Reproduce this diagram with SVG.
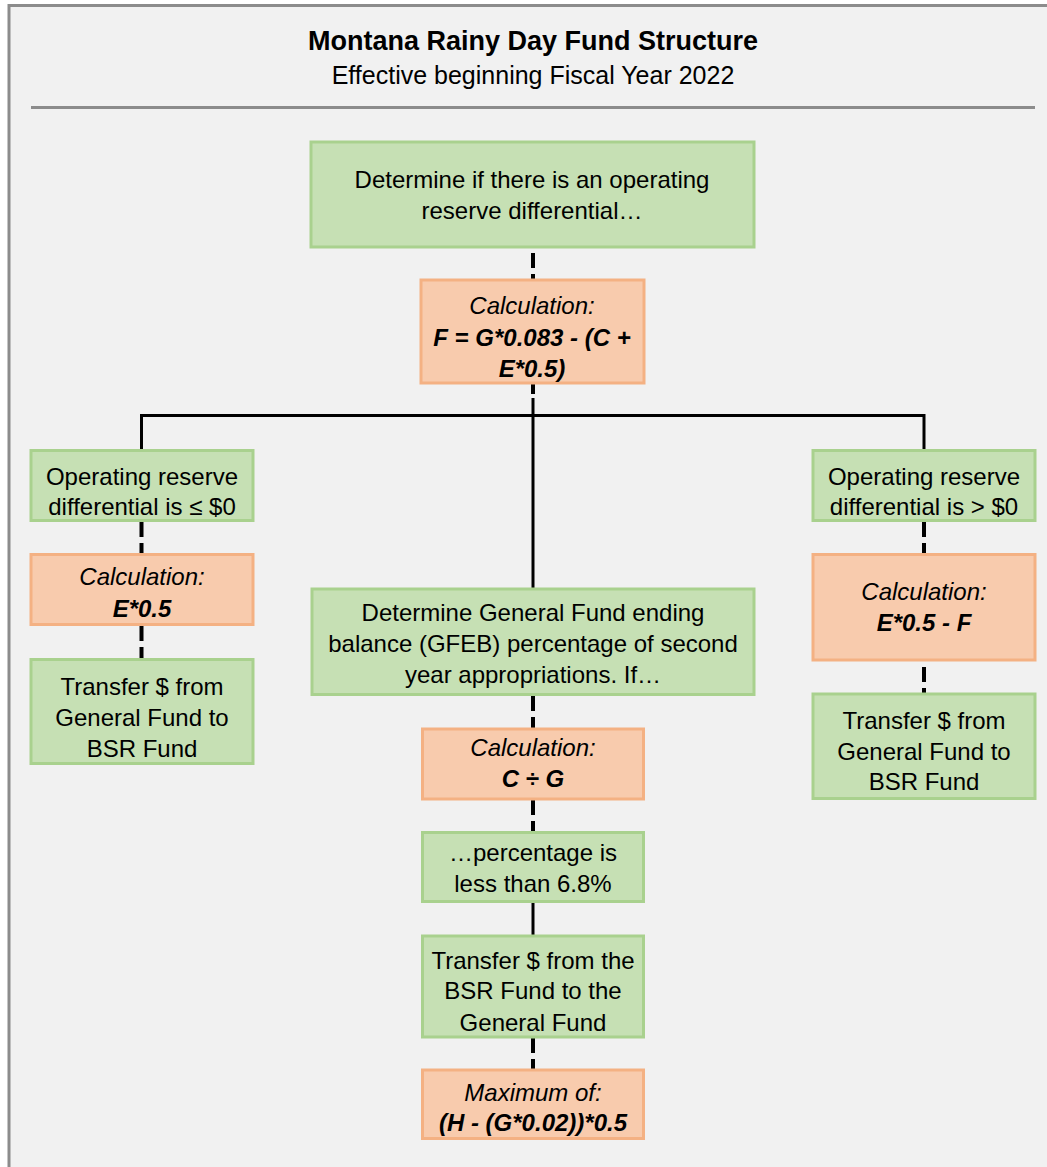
<svg xmlns="http://www.w3.org/2000/svg" width="1047" height="1167" viewBox="0 0 1047 1167">
<style>
text{font-family:"Liberation Sans",Arial,sans-serif;font-size:24px;fill:#000;text-anchor:middle}
.title{font-size:27px;font-weight:bold}
.sub{font-size:25px}
.it{font-style:italic}
.bi{font-style:italic;font-weight:bold}
.g{fill:#c6e0b4;stroke:#a9d18e;stroke-width:3}
.o{fill:#f8cbad;stroke:#f4b183;stroke-width:3}
.solid{stroke:#000;stroke-width:3;fill:none}
.dash{stroke:#000;stroke-width:4;fill:none;stroke-dasharray:15 6}
</style>
<rect x="0" y="0" width="1047" height="1167" fill="#ffffff"/>
<rect x="9" y="5.5" width="1100" height="1200" fill="#f1f1f1" stroke="#8c8c8c" stroke-width="3"/>
<g id="header">
<text class="title" x="533" y="49.5">Montana Rainy Day Fund Structure</text>
<text class="sub" x="533" y="84">Effective beginning Fiscal Year 2022</text>
<line x1="31" y1="107.5" x2="1035" y2="107.5" stroke="#8c8c8c" stroke-width="3"/>
</g>
<g id="connectors">
<line class="dash" x1="533" y1="253" x2="533" y2="279"/>
<line class="dash" x1="533" y1="384" x2="533" y2="394"/>
<line class="solid" x1="533" y1="398" x2="533" y2="588"/>
<polyline class="solid" points="141.5,450 141.5,415.5 924,415.5 924,450"/>
<line class="dash" x1="141.5" y1="522" x2="141.5" y2="554"/>
<line class="dash" x1="141.5" y1="626" x2="141.5" y2="659"/>
<line class="dash" x1="924" y1="522" x2="924" y2="554"/>
<line class="dash" x1="924" y1="667" x2="924" y2="693"/>
<line class="dash" x1="533" y1="696" x2="533" y2="728"/>
<line class="dash" x1="533" y1="800" x2="533" y2="832"/>
<line class="solid" x1="533" y1="902" x2="533" y2="935"/>
<line class="dash" x1="533" y1="1038" x2="533" y2="1069"/>
</g>
<g id="n-top">
<rect class="g" x="311" y="142" width="443" height="105"/>
<text x="532" y="188">Determine if there is an operating</text>
<text x="532" y="218.5">reserve differential…</text>
</g>
<g id="n-calc-f">
<rect class="o" x="421" y="280" width="223" height="103"/>
<text class="it" x="532" y="314">Calculation:</text>
<text class="bi" x="532" y="346">F = G*0.083 - (C +</text>
<text class="bi" x="532" y="376.5">E*0.5)</text>
</g>
<g id="n-left-cond">
<rect class="g" x="31" y="450.5" width="222" height="70"/>
<text x="142" y="484.5">Operating reserve</text>
<text x="142" y="515">differential is ≤ $0</text>
</g>
<g id="n-left-calc">
<rect class="o" x="31" y="554.5" width="222" height="70"/>
<text class="it" x="142" y="585">Calculation:</text>
<text class="bi" x="142" y="616.5">E*0.5</text>
</g>
<g id="n-left-transfer">
<rect class="g" x="31" y="659.5" width="222" height="104"/>
<text x="142" y="695">Transfer $ from</text>
<text x="142" y="725.5">General Fund to</text>
<text x="142" y="756.5">BSR Fund</text>
</g>
<g id="n-right-cond">
<rect class="g" x="813" y="450.5" width="222" height="70"/>
<text x="924" y="485">Operating reserve</text>
<text x="924" y="515">differential is &gt; $0</text>
</g>
<g id="n-right-calc">
<rect class="o" x="813" y="554.5" width="222" height="105.5"/>
<text class="it" x="924" y="600">Calculation:</text>
<text class="bi" x="924" y="631">E*0.5 - F</text>
</g>
<g id="n-right-transfer">
<rect class="g" x="813" y="694" width="222" height="104.5"/>
<text x="924" y="728.5">Transfer $ from</text>
<text x="924" y="759.5">General Fund to</text>
<text x="924" y="790">BSR Fund</text>
</g>
<g id="n-gfeb">
<rect class="g" x="312" y="589" width="442" height="105.5"/>
<text x="533" y="621">Determine General Fund ending</text>
<text x="533" y="652">balance (GFEB) percentage of second</text>
<text x="533" y="682.5">year appropriations. If…</text>
</g>
<g id="n-calc-cg">
<rect class="o" x="422.5" y="729" width="221" height="70"/>
<text class="it" x="533" y="756">Calculation:</text>
<text class="bi" x="533" y="786.5">C ÷ G</text>
</g>
<g id="n-pct">
<rect class="g" x="422.5" y="832.5" width="221" height="69"/>
<text x="533" y="860.5">…percentage is</text>
<text x="533" y="892">less than 6.8%</text>
</g>
<g id="n-transfer-gf">
<rect class="g" x="422.5" y="936" width="221" height="101"/>
<text x="533" y="968.5">Transfer $ from the</text>
<text x="533" y="999">BSR Fund to the</text>
<text x="533" y="1030.5">General Fund</text>
</g>
<g id="n-max">
<rect class="o" x="422.5" y="1070" width="221" height="68.5"/>
<text class="it" x="533" y="1101">Maximum of:</text>
<text class="bi" x="533" y="1131">(H - (G*0.02))*0.5</text>
</g>
</svg>
